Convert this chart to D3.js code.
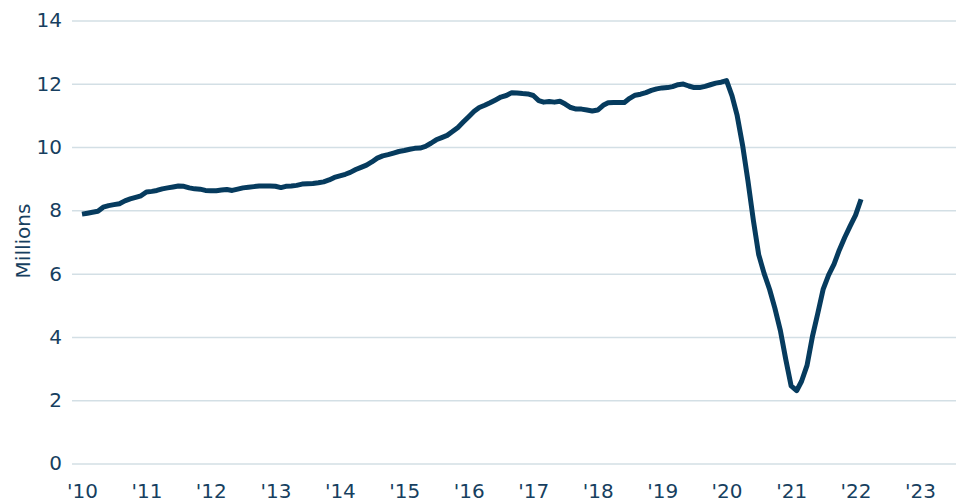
<!DOCTYPE html>
<html>
<head>
<meta charset="utf-8">
<script src="https://cdn.jsdelivr.net/npm/d3@7"></script>
<style>
  body { margin: 0; background: #fff; }
  .axis text { font-family: "DejaVu Sans", sans-serif; font-size: 20px; fill: #173f60; }
  .axis .domain { display: none; }
  .y-title { font-family: "DejaVu Sans", sans-serif; font-size: 20px; fill: #173f60; }
</style>
</head>
<body>
<svg id="chart" width="956" height="502"></svg>
<script>
// monthly values (millions), Jan 2010 .. Feb 2022
var startYear = 2010;
var monthlyValues = [
  7.88, 7.91, 7.94, 7.97, 8.10, 8.15, 8.18, 8.21, 8.30, 8.36, 8.41, 8.46,
  8.58, 8.60, 8.63, 8.68, 8.71, 8.74, 8.77, 8.76, 8.71, 8.68, 8.67, 8.63,
  8.62, 8.62, 8.64, 8.66, 8.63, 8.67, 8.71, 8.73, 8.75, 8.77, 8.77, 8.77,
  8.76, 8.72, 8.76, 8.77, 8.79, 8.83, 8.84, 8.85, 8.87, 8.90, 8.96, 9.04,
  9.09, 9.14, 9.20, 9.29, 9.36, 9.43, 9.53, 9.65, 9.72, 9.76, 9.81, 9.86,
  9.89, 9.93, 9.96, 9.97, 10.02, 10.12, 10.23, 10.30, 10.37, 10.49, 10.62, 10.79,
  10.96, 11.13, 11.25, 11.32, 11.40, 11.49, 11.58, 11.63, 11.72, 11.71, 11.69, 11.68,
  11.63, 11.47, 11.42, 11.44, 11.42, 11.45, 11.36, 11.25, 11.20, 11.20, 11.17, 11.14,
  11.17, 11.32, 11.40, 11.41, 11.41, 11.41, 11.54, 11.64, 11.67, 11.72, 11.79, 11.84,
  11.87, 11.88, 11.91, 11.97, 11.99, 11.93, 11.88, 11.88, 11.92, 11.97, 12.02, 12.05,
  12.10, 11.62, 11.00, 10.05, 8.94, 7.68, 6.60, 6.00, 5.50, 4.90, 4.20, 3.30,
  2.45, 2.30, 2.60, 3.10, 4.00, 4.75, 5.50, 5.95, 6.30, 6.75, 7.15, 7.50,
  7.85, 8.35
];
var yTicks = [0, 2, 4, 6, 8, 10, 12, 14];
var xTickYears = [2010, 2011, 2012, 2013, 2014, 2015, 2016, 2017, 2018, 2019, 2020, 2021, 2022, 2023];
var xTickLabels = ["'10", "'11", "'12", "'13", "'14", "'15", "'16", "'17", "'18", "'19", "'20", "'21", "'22", "'23"];

var width = 956, height = 502;
var gridLeft = 72;

var svg = d3.select("#chart");

var x = d3.scaleTime()
  .domain([new Date(2010, 0, 1), new Date(2023, 0, 1)])
  .range([82, 920]);

var y = d3.scaleLinear()
  .domain([0, 14])
  .range([463.5, 20.5]);

var data = monthlyValues.map(function(v, i) {
  return { date: new Date(startYear, i, 1), value: v };
});

// y axis + gridlines
var yAxis = svg.append("g")
  .attr("class", "axis y-axis")
  .attr("transform", "translate(" + gridLeft + ",0)")
  .call(d3.axisLeft(y)
    .tickValues(yTicks)
    .tickSize(-(width - gridLeft))
    .tickPadding(10)
    .tickFormat(d3.format("d")));

yAxis.selectAll(".tick line")
  .attr("stroke", "#d3dfe5")
  .attr("stroke-width", 1.5);

// x axis labels
var xAxis = svg.append("g")
  .attr("class", "axis x-axis")
  .attr("transform", "translate(0,484)")
  .call(d3.axisBottom(x)
    .tickValues(xTickYears.map(function(yr) { return new Date(yr, 0, 1); }))
    .tickSize(0)
    .tickPadding(0)
    .tickFormat(function(d, i) { return xTickLabels[i]; }));

// axis title
svg.append("text")
  .attr("class", "y-title")
  .attr("transform", "translate(23,241) rotate(-90)")
  .attr("text-anchor", "middle")
  .attr("dy", "0.35em")
  .text("Millions");

// the line
var line = d3.line()
  .x(function(d) { return x(d.date); })
  .y(function(d) { return y(d.value); });

svg.append("path")
  .datum(data)
  .attr("fill", "none")
  .attr("stroke", "#063b5e")
  .attr("stroke-width", 5)
  .attr("stroke-linejoin", "round")
  .attr("d", line);
</script>
</body>
</html>
